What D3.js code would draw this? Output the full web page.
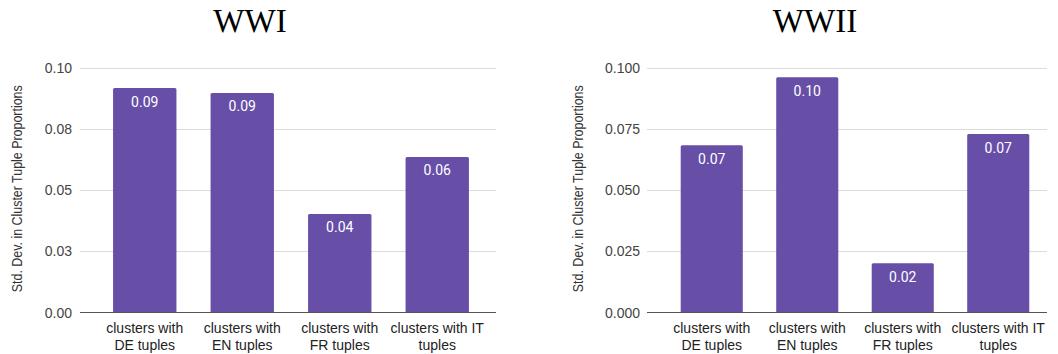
<!DOCTYPE html>
<html>
<head>
<meta charset="utf-8">
<script src="https://cdn.jsdelivr.net/npm/d3@7"></script>
<style>
  html, body { margin: 0; padding: 0; background: #fff; }
  svg { display: block; }
</style>
</head>
<body>
<svg id="chart" width="1058" height="354"></svg>
<script>
// Categories shared by both panels (two-line labels)
const categories = ["DE", "EN", "FR", "IT"];
const categoryLines = [
  ["clusters with", "DE tuples"],
  ["clusters with", "EN tuples"],
  ["clusters with", "FR tuples"],
  ["clusters with IT", "tuples"]
];

// Standard deviation of cluster tuple proportions per language
const wwiValues  = [0.0918, 0.0898, 0.0403, 0.0636];
const wwiiValues = [0.0684, 0.0962, 0.0201, 0.0730];

// Axis ticks and their displayed labels
const tickValues = [0, 0.025, 0.05, 0.075, 0.1];
const wwiTickLabels  = ["0.00", "0.03", "0.05", "0.08", "0.10"];
const wwiiTickLabels = ["0.000", "0.025", "0.050", "0.075", "0.100"];

const titles = ["WWI", "WWII"];
const yTitle = "Std. Dev. in Cluster Tuple Proportions";

const svg = d3.select("#chart");
const BAR = "#674ea7";

const panels = [
  { title: titles[0], values: wwiValues, ticks: wwiTickLabels,
    gridX0: 80, gridX1: 496, bandX0: 96, bandX1: 486, titleX: 250,
    tickX: 72, yTitleX: 17 },
  { title: titles[1], values: wwiiValues, ticks: wwiiTickLabels,
    gridX0: 647, gridX1: 1047, bandX0: 664, bandX1: 1046, titleX: 815,
    tickX: 640, yTitleX: 578 }
];

const yTop = 68, yBase = 312.5;
const y = d3.scaleLinear().domain([0, 0.1]).range([yBase, yTop]);
const fmt = d3.format(".2f");

panels.forEach(p => {
  const g = svg.append("g");
  const x = d3.scaleBand().domain(categories)
    .range([p.bandX0, p.bandX1]).paddingInner(0.35).paddingOuter(0.175);

  // Title
  g.append("text")
    .attr("x", p.titleX).attr("y", 32)
    .attr("text-anchor", "middle")
    .attr("font-family", "'Liberation Serif', 'Times New Roman', serif")
    .attr("font-size", 33)
    .attr("fill", "#000")
    .text(p.title);

  // Gridlines
  g.selectAll("line.grid").data(tickValues.slice(1)).join("line")
    .attr("class", "grid")
    .attr("x1", p.gridX0).attr("x2", p.gridX1)
    .attr("y1", d => Math.round(y(d)) + 0.5).attr("y2", d => Math.round(y(d)) + 0.5)
    .attr("stroke", "#dcdcdc").attr("stroke-width", 1);

  // Tick labels
  g.selectAll("text.tick").data(tickValues).join("text")
    .attr("class", "tick")
    .attr("x", p.tickX).attr("y", d => y(d) + 5)
    .attr("text-anchor", "end")
    .attr("font-family", "'Liberation Sans', Arial, sans-serif")
    .attr("font-size", 14)
    .attr("fill", "#444")
    .text((d, i) => p.ticks[i]);

  // Y axis title
  g.append("text")
    .attr("transform", `translate(${p.yTitleX},${(yTop + yBase) / 2 - 1.5}) rotate(-90)`)
    .attr("text-anchor", "middle")
    .attr("dominant-baseline", "central")
    .attr("font-family", "'Liberation Sans', Arial, sans-serif")
    .attr("font-size", 14)
    .attr("textLength", 207)
    .attr("lengthAdjust", "spacingAndGlyphs")
    .attr("fill", "#333")
    .text(yTitle);

  // Bars
  g.selectAll("path.bar").data(p.values).join("path")
    .attr("class", "bar")
    .attr("d", (d, i) => {
      const x0 = x(categories[i]), w = x.bandwidth();
      const top = y(d), r = 1.5;
      return `M${x0},${yBase} L${x0},${top + r} Q${x0},${top} ${x0 + r},${top} ` +
             `L${x0 + w - r},${top} Q${x0 + w},${top} ${x0 + w},${top + r} L${x0 + w},${yBase} Z`;
    })
    .attr("fill", BAR);

  // Value labels inside bars
  g.selectAll("text.val").data(p.values).join("text")
    .attr("class", "val")
    .attr("x", (d, i) => x(categories[i]) + x.bandwidth() / 2)
    .attr("y", d => y(d) + 18.5)
    .attr("text-anchor", "middle")
    .attr("font-family", "Roboto, 'Liberation Sans', sans-serif")
    .attr("font-size", 14)
    .attr("fill", "#fff")
    .text(d => fmt(d));

  // Baseline
  g.append("line")
    .attr("x1", p.gridX0).attr("x2", p.gridX1)
    .attr("y1", yBase).attr("y2", yBase)
    .attr("stroke", "#555").attr("stroke-width", 1.2);

  // Category labels
  categories.forEach((c, i) => {
    const t = g.append("text")
      .attr("text-anchor", "middle")
      .attr("font-family", "'Liberation Sans', Arial, sans-serif")
      .attr("font-size", 14)
      .attr("fill", "#222");
    categoryLines[i].forEach((line, j) => {
      t.append("tspan")
        .attr("x", x(c) + x.bandwidth() / 2)
        .attr("y", 333 + j * 17)
        .text(line);
    });
  });
});
</script>
</body>
</html>
